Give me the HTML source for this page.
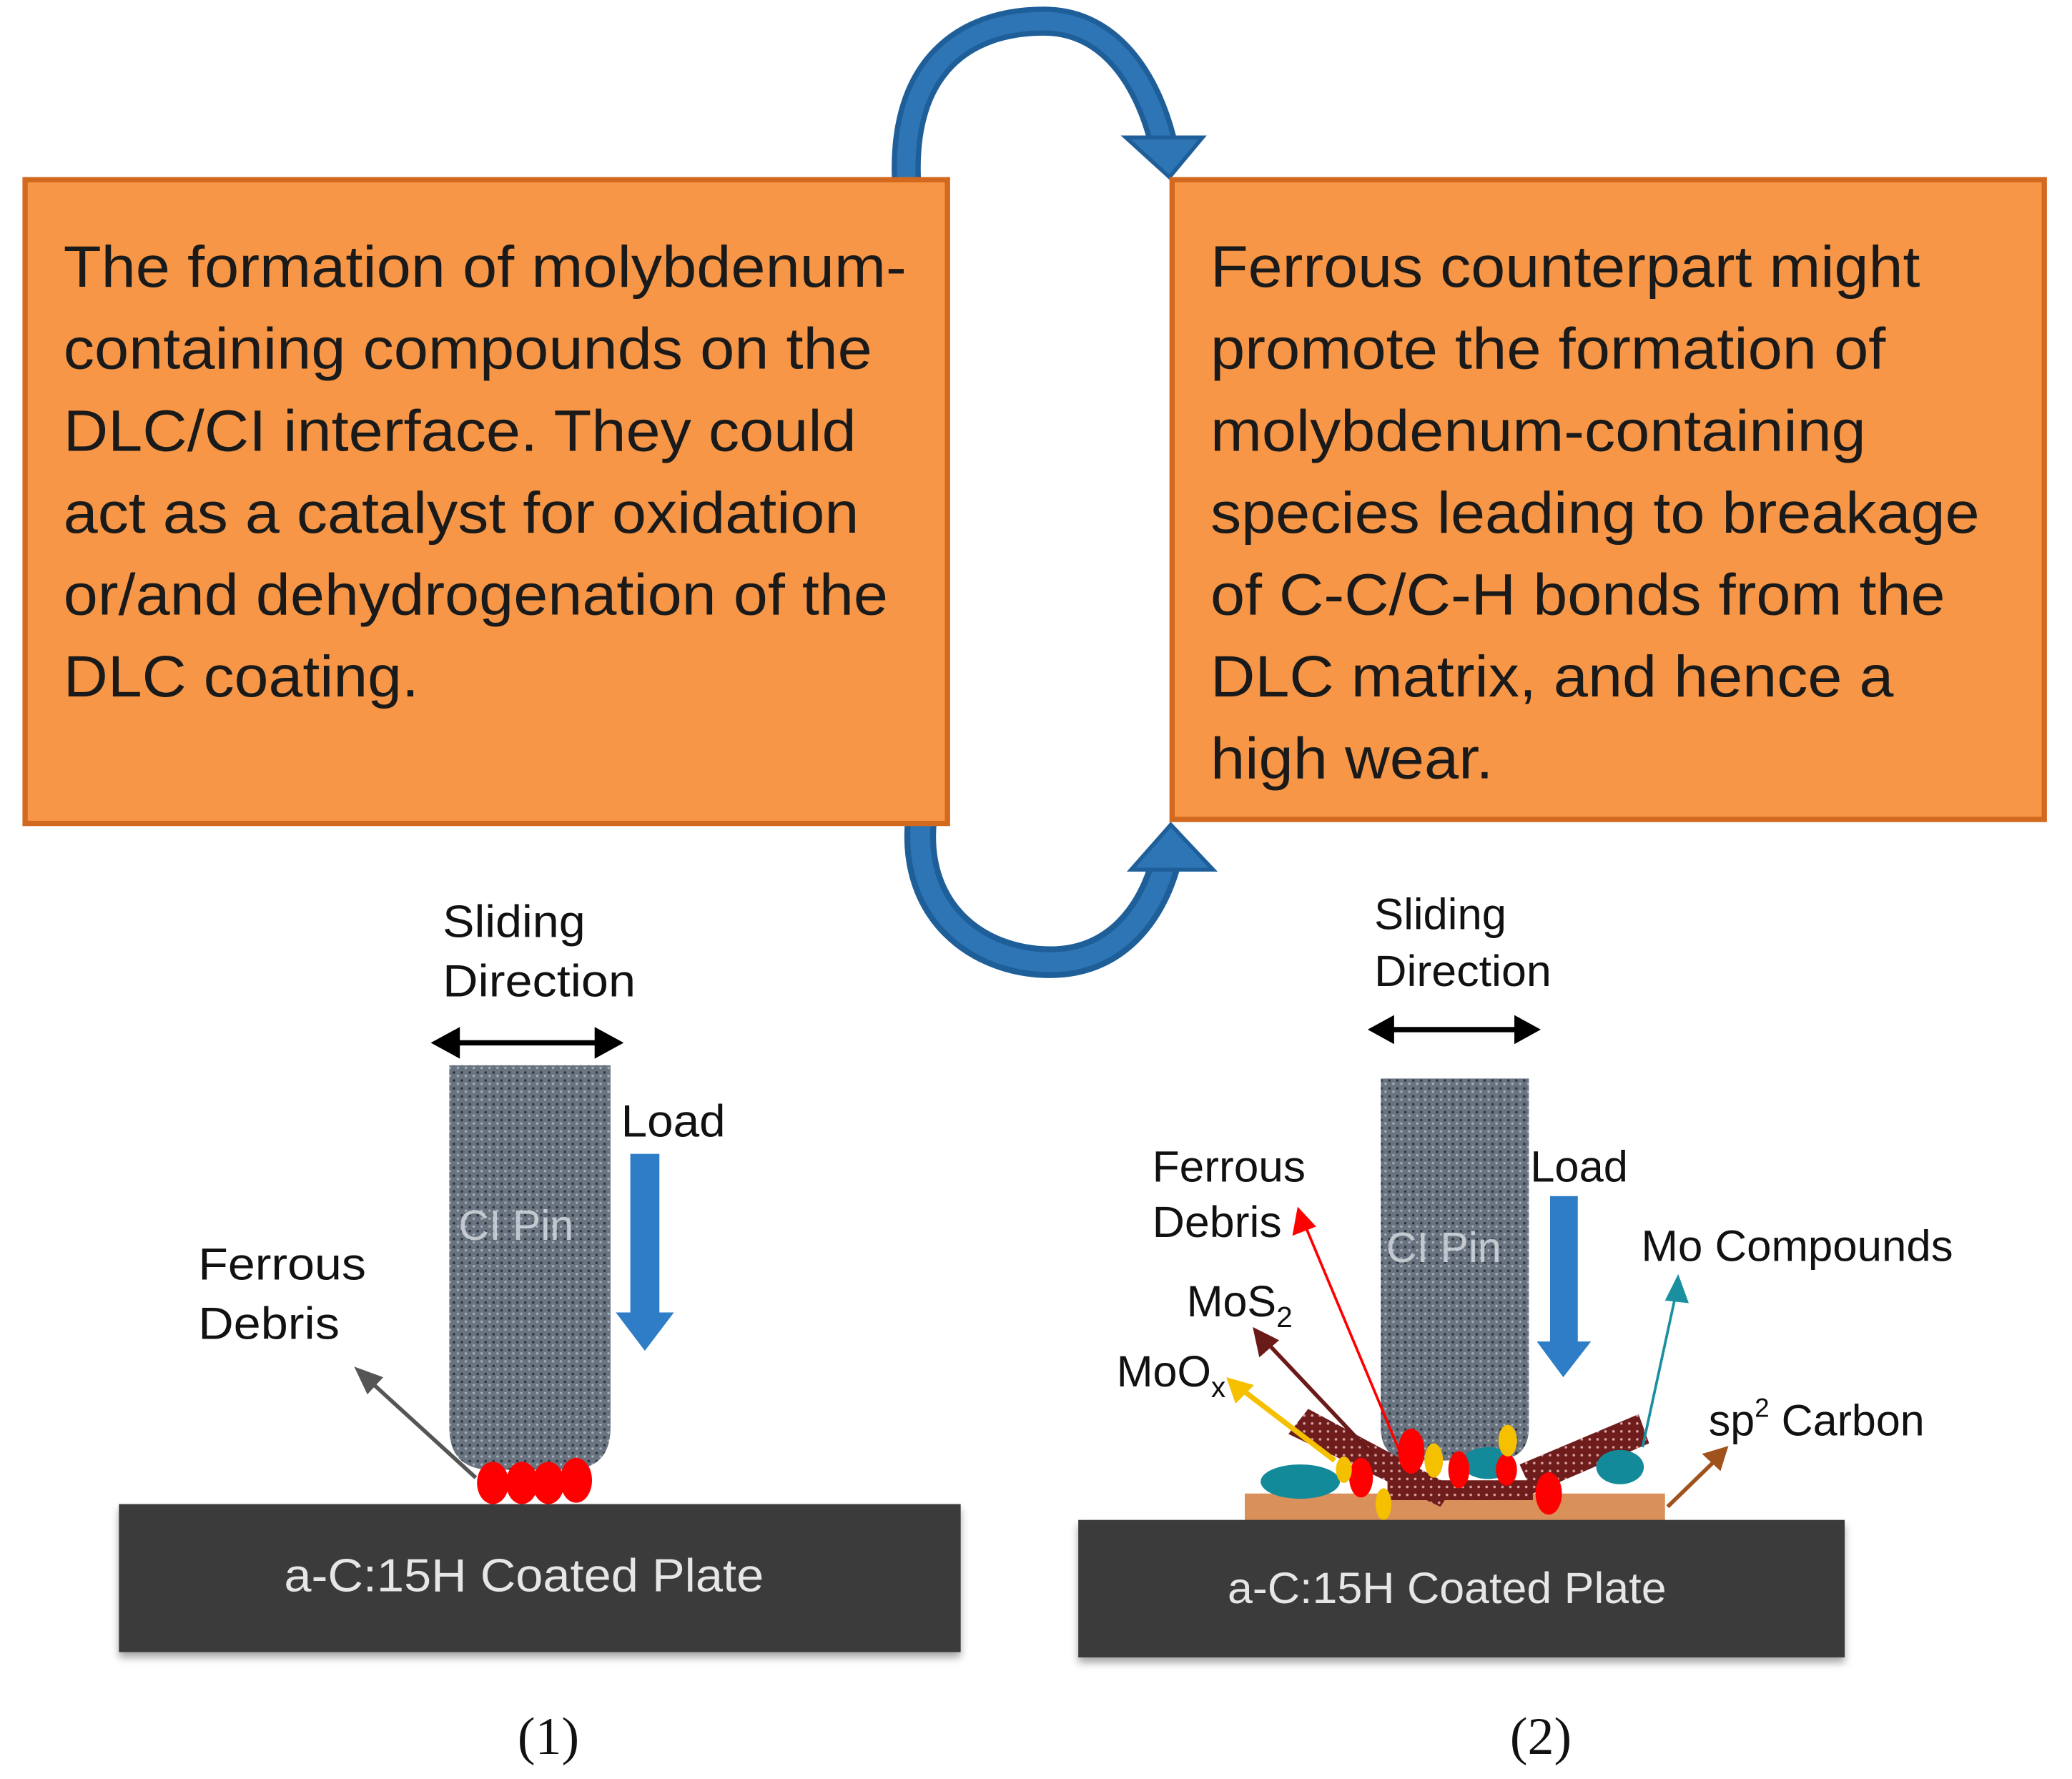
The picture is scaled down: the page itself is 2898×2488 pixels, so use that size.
<!DOCTYPE html>
<html><head><meta charset="utf-8"><style>
html,body{margin:0;padding:0;background:#fff;}
svg{display:block;}
text{font-family:"Liberation Sans",sans-serif;}
</style></head><body>
<svg width="2898" height="2488" viewBox="0 0 1568 1346" preserveAspectRatio="none" xmlns="http://www.w3.org/2000/svg">
<defs>
<pattern id="tex" width="6" height="6" patternUnits="userSpaceOnUse">
<rect width="6" height="6" fill="#6a7480"/>
<circle cx="1.5" cy="1.5" r="1" fill="#2e3640"/>
<circle cx="4.5" cy="4" r="0.9" fill="#a9b3bd"/>
</pattern>
<pattern id="hatch" width="6" height="6" patternUnits="userSpaceOnUse">
<rect width="6" height="6" fill="#6e1c1c"/>
<circle cx="3" cy="3" r="1" fill="#d9a0a0"/>
</pattern>
<filter id="sh"><feDropShadow dx="0" dy="4" stdDeviation="3" flood-color="#000" flood-opacity="0.35"/></filter>
</defs>
<rect width="1568" height="1346" fill="#fff"/>

<!-- top arc -->
<path d="M686,137 C682,50 730,16 790,16 C840,16 868,60 880,108" fill="none" stroke="#1f5f99" stroke-width="22"/>
<path d="M686,137 C682,50 730,16 790,16 C840,16 868,60 880,108" fill="none" stroke="#2e75b6" stroke-width="14"/>
<polygon points="852,104 910,104 885,134" fill="#2e75b6" stroke="#1f5f99" stroke-width="3"/>

<!-- bottom arc -->
<path d="M697,620 C690,690 740,728 795,728 C845,728 872,690 882,652" fill="none" stroke="#1f5f99" stroke-width="24"/>
<path d="M697,620 C690,690 740,728 795,728 C845,728 872,690 882,652" fill="none" stroke="#2e75b6" stroke-width="15"/>
<polygon points="856,658 918,658 886,624" fill="#2e75b6" stroke="#1f5f99" stroke-width="3"/>

<!-- boxes -->
<rect x="19" y="136" width="698" height="487" fill="#f79646" stroke="#d2691e" stroke-width="4"/>
<rect x="887" y="136" width="660" height="484" fill="#f79646" stroke="#d2691e" stroke-width="4"/>
<g font-size="44" fill="#1a1a1a" lengthAdjust="spacingAndGlyphs">
<text x="48" y="217" textLength="638" lengthAdjust="spacingAndGlyphs">The formation of molybdenum-</text>
<text x="48" y="279" textLength="612" lengthAdjust="spacingAndGlyphs">containing compounds on the</text>
<text x="48" y="341" textLength="600" lengthAdjust="spacingAndGlyphs">DLC/CI interface. They could</text>
<text x="48" y="403" textLength="602" lengthAdjust="spacingAndGlyphs">act as a catalyst for oxidation</text>
<text x="48" y="465" textLength="624" lengthAdjust="spacingAndGlyphs">or/and dehydrogenation of the</text>
<text x="48" y="527" textLength="269" lengthAdjust="spacingAndGlyphs">DLC coating.</text>
<text x="916" y="217" textLength="537" lengthAdjust="spacingAndGlyphs">Ferrous counterpart might</text>
<text x="916" y="279" textLength="511" lengthAdjust="spacingAndGlyphs">promote the formation of</text>
<text x="916" y="341" textLength="496" lengthAdjust="spacingAndGlyphs">molybdenum-containing</text>
<text x="916" y="403" textLength="582" lengthAdjust="spacingAndGlyphs">species leading to breakage</text>
<text x="916" y="465" textLength="556" lengthAdjust="spacingAndGlyphs">of C-C/C-H bonds from the</text>
<text x="916" y="527" textLength="517" lengthAdjust="spacingAndGlyphs">DLC matrix, and hence a</text>
<text x="916" y="589" textLength="214" lengthAdjust="spacingAndGlyphs">high wear.</text>
</g>

<!-- panel 1 -->
<g font-size="34" fill="#111">
<text x="335" y="709" textLength="108" lengthAdjust="spacingAndGlyphs">Sliding</text>
<text x="335" y="754" textLength="146" lengthAdjust="spacingAndGlyphs">Direction</text>
<text x="470" y="860" textLength="79" lengthAdjust="spacingAndGlyphs">Load</text>
<text x="150" y="968" textLength="127" lengthAdjust="spacingAndGlyphs">Ferrous</text>
<text x="150" y="1013" textLength="107" lengthAdjust="spacingAndGlyphs">Debris</text>
</g>
<line x1="340" y1="789" x2="458" y2="789" stroke="#000" stroke-width="4"/>
<polygon points="326,789 348,777 348,801" fill="#000"/>
<polygon points="472,789 450,777 450,801" fill="#000"/>
<path d="M340,806 L462,806 L462,1080 Q462,1112 430,1112 L372,1112 Q340,1112 340,1080 Z" fill="url(#tex)"/>
<text x="347" y="938" font-size="32" fill="#d8dde2" opacity="0.8">CI Pin</text>
<rect x="477" y="873" width="22" height="120" fill="#2e7dc6"/>
<polygon points="466,993 510,993 488,1022" fill="#2e7dc6"/>
<line x1="360" y1="1118" x2="280" y2="1045" stroke="#555" stroke-width="3"/>
<polygon points="268,1034 290,1042 278,1055" fill="#555"/>
<g fill="#f00"><ellipse cx="373" cy="1122" rx="12" ry="16"/><ellipse cx="395" cy="1122" rx="12" ry="16"/><ellipse cx="415" cy="1122" rx="12" ry="16"/><ellipse cx="436" cy="1120" rx="12" ry="17"/></g>
<rect x="90" y="1138" width="637" height="112" fill="#3a3a3a" filter="url(#sh)"/>
<text x="215" y="1204" font-size="35" fill="#e6e6e6" textLength="363" lengthAdjust="spacingAndGlyphs">a-C:15H Coated Plate</text>
<text x="415" y="1327" font-size="40" fill="#111" text-anchor="middle" style="font-family:'Liberation Serif',serif">(1)</text>

<!-- panel 2 -->
<g font-size="33" fill="#111">
<text x="1040" y="703" textLength="100" lengthAdjust="spacingAndGlyphs">Sliding</text>
<text x="1040" y="746" textLength="134" lengthAdjust="spacingAndGlyphs">Direction</text>
<text x="1158" y="894" textLength="74" lengthAdjust="spacingAndGlyphs">Load</text>
<text x="872" y="894" textLength="116" lengthAdjust="spacingAndGlyphs">Ferrous</text>
<text x="872" y="936" textLength="98" lengthAdjust="spacingAndGlyphs">Debris</text>
<text x="1242" y="954" textLength="236" lengthAdjust="spacingAndGlyphs">Mo Compounds</text>
<text x="898" y="996">MoS<tspan font-size="22" dy="8">2</tspan></text>
<text x="845" y="1049">MoO<tspan font-size="22" dy="8">x</tspan></text>
<text x="1293" y="1086">sp<tspan font-size="20" dy="-14">2</tspan><tspan dy="14"> Carbon</tspan></text>
</g>
<line x1="1048" y1="779" x2="1152" y2="779" stroke="#000" stroke-width="4"/>
<polygon points="1035,779 1055,768 1055,790" fill="#000"/>
<polygon points="1166,779 1146,768 1146,790" fill="#000"/>
<path d="M1045,816 L1157,816 L1157,1080 Q1157,1105 1130,1105 L1070,1105 Q1045,1105 1045,1080 Z" fill="url(#tex)"/>
<text x="1049" y="955" font-size="32" fill="#d8dde2" opacity="0.8">CI Pin</text>
<rect x="1173" y="905" width="21" height="112" fill="#2e7dc6"/>
<polygon points="1163,1015 1204,1015 1183,1042" fill="#2e7dc6"/>
<rect x="942" y="1130" width="318" height="22" fill="#d9905a"/>
<polygon points="975,1085 990,1066 1100,1125 1090,1140" fill="url(#hatch)"/>
<polygon points="1050,1120 1160,1120 1160,1135 1050,1135" fill="url(#hatch)"/>
<polygon points="1150,1108 1240,1070 1248,1092 1160,1130" fill="url(#hatch)"/>
<line x1="1060" y1="1100" x2="988" y2="928" stroke="#f00" stroke-width="2"/>
<polygon points="982,913 978,935 996,928" fill="#f00"/>
<line x1="1038" y1="1100" x2="958" y2="1015" stroke="#6b1a1a" stroke-width="3"/>
<polygon points="948,1004 953,1027 968,1014" fill="#6b1a1a"/>
<line x1="1010" y1="1105" x2="938" y2="1050" stroke="#f5c000" stroke-width="4"/>
<polygon points="928,1042 935,1062 949,1048" fill="#f5c000"/>
<line x1="1243" y1="1095" x2="1268" y2="980" stroke="#1a8fa0" stroke-width="2"/>
<polygon points="1270,964 1260,984 1278,986" fill="#1a8fa0"/>
<line x1="1262" y1="1140" x2="1298" y2="1105" stroke="#a0521d" stroke-width="3"/>
<polygon points="1308,1094 1288,1100 1302,1113" fill="#a0521d"/>
<g fill="#138a9a"><ellipse cx="984" cy="1121" rx="30" ry="13"/><ellipse cx="1126" cy="1107" rx="20" ry="12"/><ellipse cx="1226" cy="1110" rx="18" ry="13"/></g>
<g fill="#f00"><ellipse cx="1030" cy="1118" rx="9" ry="15"/><ellipse cx="1068" cy="1098" rx="10" ry="17"/><ellipse cx="1104" cy="1112" rx="8" ry="14"/><ellipse cx="1172" cy="1130" rx="10" ry="16"/><ellipse cx="1140" cy="1112" rx="8" ry="12"/></g>
<g fill="#f5c000"><ellipse cx="1047" cy="1138" rx="6" ry="12"/><ellipse cx="1085" cy="1105" rx="7" ry="13"/><ellipse cx="1141" cy="1090" rx="7" ry="12"/><ellipse cx="1017" cy="1112" rx="6" ry="10"/></g>
<rect x="816" y="1150" width="580" height="104" fill="#3a3a3a" filter="url(#sh)"/>
<text x="929" y="1213" font-size="33" fill="#e6e6e6" textLength="332" lengthAdjust="spacingAndGlyphs">a-C:15H Coated Plate</text>
<text x="1166" y="1327" font-size="40" fill="#111" text-anchor="middle" style="font-family:'Liberation Serif',serif">(2)</text>
</svg>
</body></html>
